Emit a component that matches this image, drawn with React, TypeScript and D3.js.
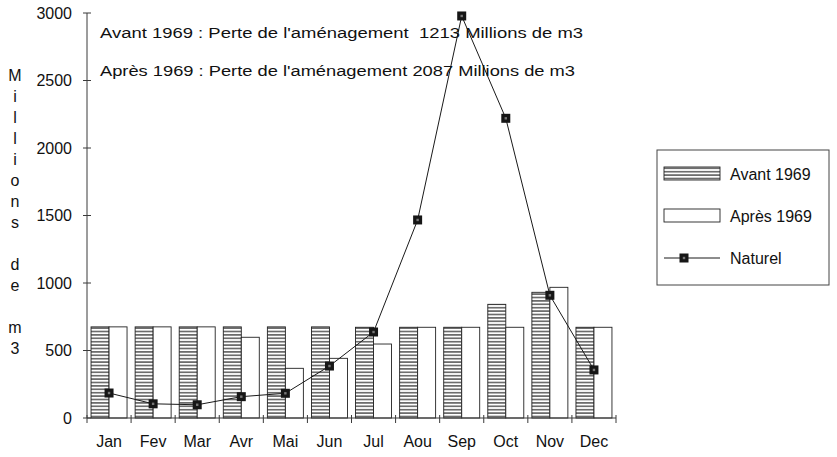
import React from "react";
import * as d3 from "d3";

const months = ["Jan", "Fev", "Mar", "Avr", "Mai", "Jun", "Jul", "Aou", "Sep", "Oct", "Nov", "Dec"];
const avant1969 = [675, 675, 675, 675, 675, 675, 672, 672, 672, 842, 931, 672];
const apres1969 = [675, 675, 675, 598, 368, 442, 548, 672, 672, 672, 968, 672];
const naturel = [185, 105, 98, 158, 183, 385, 637, 1467, 2978, 2220, 909, 356];
const yTicks = [0, 500, 1000, 1500, 2000, 2500, 3000];
const seriesNames = ["Avant 1969", "Après 1969", "Naturel"];
const annotations = [
  "Avant 1969 : Perte de l'aménagement  1213 Millions de m3",
  "Après 1969 : Perte de l'aménagement 2087 Millions de m3",
];
const yTitleLines = ["M", "i", "l", "l", "i", "o", "n", "s", "", "d", "e", "", "m", "3"];

const W = 837;
const H = 457;
const FONT = "'Liberation Sans', Arial, Helvetica, sans-serif";

export default function App() {
  const x = d3.scaleBand<string>().domain(months).range([87, 616]).paddingInner(0).paddingOuter(0);
  const inner = d3
    .scaleBand<string>()
    .domain(["avant", "apres"])
    .range([0, x.bandwidth()])
    .paddingInner(0)
    .paddingOuter(0.225);
  const y = d3.scaleLinear().domain([0, 3000]).range([418, 13]);
  const line = d3
    .line<number>()
    .x((_, i) => (x(months[i]) as number) + x.bandwidth() / 2)
    .y((d) => y(d));

  const boundaries = months.map((m) => x(m) as number).concat([x.range()[1]]);
  const axisColor = "#3a3a3a";
  const ms = 9;

  const Marker = ({ cx, cy }: { cx: number; cy: number }) => (
    <g>
      <rect x={cx - ms / 2} y={cy - ms / 2} width={ms} height={ms} fill="#161616" />
      <rect x={cx - 1.2} y={cy - 1.2} width={2.4} height={2.4} fill="#777" />
    </g>
  );

  return (
    <svg
      width={W}
      height={H}
      style={{ position: "absolute", left: 0, top: 0, background: "#fff" }}
      fontFamily={FONT}
    >
      <defs>
        <pattern id="hatch" patternUnits="userSpaceOnUse" width={6} height={3.4}>
          <rect x={0} y={0} width={6} height={3.4} fill="#fff" />
          <line x1={0} x2={6} y1={1.7} y2={1.7} stroke="#1e1e1e" strokeWidth={1.1} />
        </pattern>
      </defs>
      <rect x={0} y={0} width={W} height={H} fill="#fff" />

      {/* bars */}
      {months.map((m, i) => {
        const x0 = x(m) as number;
        return (
          <g key={m}>
            <rect
              x={x0 + (inner("avant") as number)}
              y={y(avant1969[i])}
              width={inner.bandwidth()}
              height={y(0) - y(avant1969[i])}
              fill="url(#hatch)"
              stroke="#222"
              strokeWidth={0.9}
            />
            <rect
              x={x0 + (inner("apres") as number)}
              y={y(apres1969[i])}
              width={inner.bandwidth()}
              height={y(0) - y(apres1969[i])}
              fill="#fff"
              stroke="#222"
              strokeWidth={0.9}
            />
          </g>
        );
      })}

      {/* axes */}
      <line x1={87} x2={87} y1={y(0)} y2={y(3000)} stroke={axisColor} strokeWidth={1} />
      <line x1={87} x2={616} y1={y(0)} y2={y(0)} stroke={axisColor} strokeWidth={1} />
      {yTicks.map((t) => (
        <g key={t}>
          <line x1={83} x2={91} y1={y(t)} y2={y(t)} stroke={axisColor} strokeWidth={1} />
          <text x={72} y={y(t)} dy="0.36em" textAnchor="end" fontSize={16} fill="#111">
            {t}
          </text>
        </g>
      ))}
      {boundaries.map((b, i) => (
        <line key={i} x1={b} x2={b} y1={y(0) - 3} y2={y(0) + 5} stroke={axisColor} strokeWidth={1} />
      ))}
      {months.map((m) => (
        <text
          key={m}
          x={(x(m) as number) + x.bandwidth() / 2}
          y={447}
          textAnchor="middle"
          fontSize={16}
          fill="#111"
        >
          {m}
        </text>
      ))}

      {/* y title stacked */}
      {yTitleLines.map((c, i) => (
        <text key={i} x={15} y={75 + i * 21} dy="0.36em" textAnchor="middle" fontSize={16} fill="#111">
          {c}
        </text>
      ))}

      {/* naturel line */}
      <path d={line(naturel) || ""} fill="none" stroke="#1a1a1a" strokeWidth={1} />
      {naturel.map((v, i) => (
        <Marker key={i} cx={(x(months[i]) as number) + x.bandwidth() / 2} cy={y(v)} />
      ))}

      {/* annotations */}
      <text
        x={100}
        y={38}
        fontSize={15.5}
        fill="#111"
        textLength={483}
        lengthAdjust="spacingAndGlyphs"
        style={{ whiteSpace: "pre" }}
      >
        {annotations[0]}
      </text>
      <text
        x={100}
        y={76}
        fontSize={15.5}
        fill="#111"
        textLength={475}
        lengthAdjust="spacingAndGlyphs"
        style={{ whiteSpace: "pre" }}
      >
        {annotations[1]}
      </text>

      {/* legend */}
      <rect x={657} y={150} width={172} height={135} fill="#fff" stroke="#444" strokeWidth={1} />
      <rect x={664} y={167} width={56} height={13} fill="url(#hatch)" stroke="#222" strokeWidth={0.9} />
      <text x={730} y={180} fontSize={16} fill="#111">
        {seriesNames[0]}
      </text>
      <rect x={664} y={209} width={56} height={13} fill="#fff" stroke="#222" strokeWidth={0.9} />
      <text x={730} y={222} fontSize={16} fill="#111">
        {seriesNames[1]}
      </text>
      <line x1={664} x2={720} y1={258} y2={258} stroke="#1a1a1a" strokeWidth={1} />
      <Marker cx={684} cy={258} />
      <text x={730} y={264} fontSize={16} fill="#111">
        {seriesNames[2]}
      </text>
    </svg>
  );
}
